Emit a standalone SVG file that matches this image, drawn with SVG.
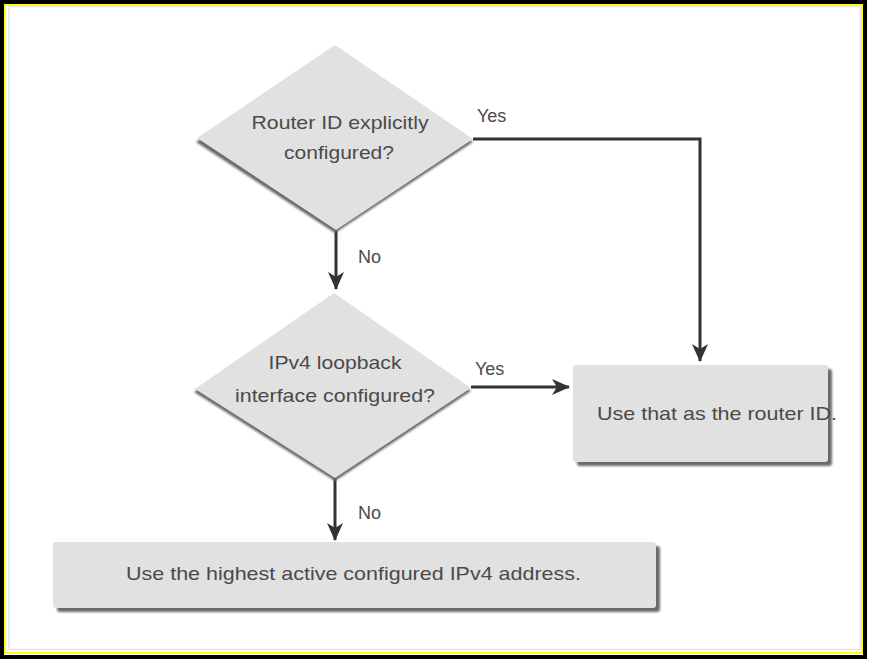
<svg xmlns="http://www.w3.org/2000/svg" width="869" height="661" viewBox="0 0 869 661">
  <style>
    .shape { fill: #e1e1e1; }
    .shadow { fill: #6a6a6a; filter: url(#blur); }
    .txt { font-family: "Liberation Sans", Arial, sans-serif; font-size: 19px; fill: #4a4a4a; text-anchor: middle; }
    .lbl { font-family: "Liberation Sans", Arial, sans-serif; font-size: 18px; fill: #4a4a4a; }
    .conn { fill: none; stroke: #333333; stroke-width: 3; }
  </style>
  <defs>
    <filter id="blur" x="-10%" y="-10%" width="120%" height="120%">
      <feGaussianBlur stdDeviation="1"/>
    </filter>
    <marker id="arrow" markerUnits="userSpaceOnUse" markerWidth="18" markerHeight="16" viewBox="0 0 18 16" refX="17" refY="8" orient="auto">
      <path d="M0,0 L18,8 L0,16 L5,8 Z" fill="#333333"/>
    </marker>
  </defs>

  <!-- frame -->
  <rect x="0" y="0" width="869" height="661" fill="#ffffff"/>
  <rect x="2" y="2" width="863" height="655" fill="none" stroke="#000000" stroke-width="4"/>
  <rect x="5" y="5" width="857" height="648" fill="none" stroke="#ffff00" stroke-width="2"/>
  <rect x="9" y="6.5" width="851" height="643" fill="none" stroke="#e4e4ee" stroke-width="1.5"/>

  <g id="connectors">
    <polyline class="conn" points="473,139 700,139 700,361" marker-end="url(#arrow)"/>
    <line class="conn" x1="336" y1="230" x2="336" y2="289" marker-end="url(#arrow)"/>
    <line class="conn" x1="471" y1="387" x2="569" y2="387" marker-end="url(#arrow)"/>
    <line class="conn" x1="335" y1="478" x2="335" y2="540" marker-end="url(#arrow)"/>
    <text class="lbl" x="477" y="122">Yes</text>
    <text class="lbl" x="358" y="263">No</text>
    <text class="lbl" x="475" y="375">Yes</text>
    <text class="lbl" x="358" y="519">No</text>
  </g>

  <g id="decision1">
    <polygon class="shadow" points="335,48 473,142 335,233 196,142"/>
    <polygon class="shape" points="335,45 473,139 336,230 197,138"/>
    <text class="txt" x="340" y="129" textLength="177" lengthAdjust="spacingAndGlyphs">Router ID explicitly</text>
    <text class="txt" x="339" y="159" textLength="110" lengthAdjust="spacingAndGlyphs">configured?</text>
  </g>

  <g id="decision2">
    <polygon class="shadow" points="334,296 471,391 335,481 194,392"/>
    <polygon class="shape" points="334,293 471,388 335,478 195,389"/>
    <text class="txt" x="335" y="369" textLength="133" lengthAdjust="spacingAndGlyphs">IPv4 loopback</text>
    <text class="txt" x="335" y="402" textLength="200" lengthAdjust="spacingAndGlyphs">interface configured?</text>
  </g>

  <g id="result-router-id">
    <rect class="shadow" x="577" y="369" width="255" height="97" rx="3"/>
    <rect class="shape" x="573" y="365" width="255" height="97" rx="3"/>
    <text class="txt" x="717" y="420" textLength="240" lengthAdjust="spacingAndGlyphs">Use that as the router ID.</text>
  </g>

  <g id="result-highest-ip">
    <rect class="shadow" x="57" y="546" width="603" height="66" rx="3"/>
    <rect class="shape" x="53" y="542" width="603" height="66" rx="3"/>
    <text class="txt" x="353.5" y="580" textLength="455" lengthAdjust="spacingAndGlyphs">Use the highest active configured IPv4 address.</text>
  </g>
</svg>
